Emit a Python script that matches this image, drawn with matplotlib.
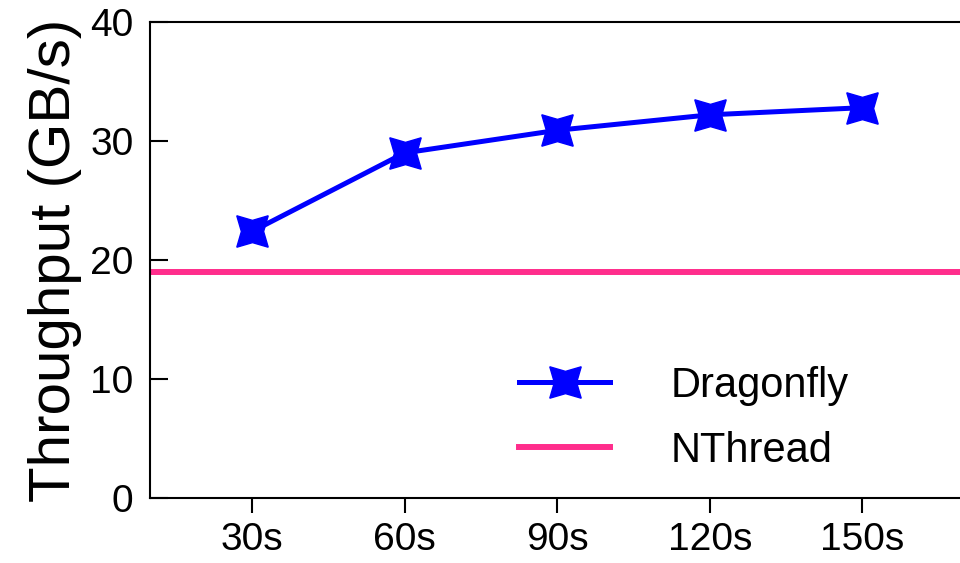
import matplotlib
matplotlib.use("Agg")
import matplotlib.pyplot as plt
import numpy as np

plt.rcParams['font.family'] = ['Liberation Sans', 'DejaVu Sans']

durations = ['30s', '60s', '90s', '120s', '150s']
dragonfly = [22.4, 29.0, 30.9, 32.2, 32.8]
nthread = 19.0

fig = plt.figure(figsize=(9.6, 5.63), dpi=100)
ax = fig.add_axes([150 / 960, 65 / 563, 1 - 150 / 960, 476 / 563])

x = np.arange(len(durations))
ax.plot(x, dragonfly, color='#0000ff', lw=3.6, marker=(4, 1, 45), ms=32,
        label='Dragonfly', zorder=3)
ax.axhline(nthread, color='#ff2d8c', lw=4.3, label='NThread')

ax.set_xlim(-0.669, 4.64)
ax.set_ylim(0, 40)
ax.set_xticks(x)
ax.set_xticklabels(durations)
ax.set_yticks([0, 10, 20, 30, 40])
ax.tick_params(axis='x', direction='out', length=11, width=1.5, labelsize=28, pad=6)
ax.tick_params(axis='y', direction='in', length=13, width=1.5, labelsize=28, pad=12)
for s in ['left', 'bottom', 'top']:
    ax.spines[s].set_linewidth(1.5)
ax.spines['right'].set_visible(False)

ax.set_ylabel('Throughput (GB/s)', fontsize=42, labelpad=6)

fig.legend(loc='center left', bbox_to_anchor=(0.523, 0.257), frameon=False,
           fontsize=30, handlelength=2.2, handletextpad=1.45, labelspacing=0.6,
           borderaxespad=0)

fig.savefig('out.png', dpi=100)
